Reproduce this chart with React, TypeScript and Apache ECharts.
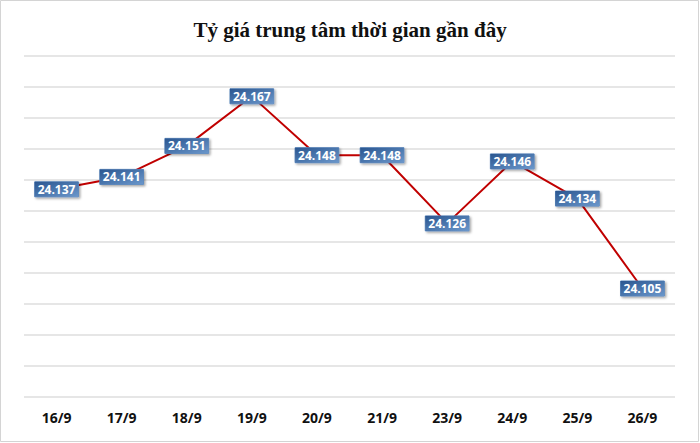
import React, { useEffect, useRef } from "react";
import * as echarts from "echarts";

const categories = ["16/9", "17/9", "18/9", "19/9", "20/9", "21/9", "23/9", "24/9", "25/9", "26/9"];
const rates = [24137, 24141, 24151, 24167, 24148, 24148, 24126, 24146, 24134, 24105];
const titleText = "Tỷ giá trung tâm thời gian gần đây";

const fmt = (v: number) => {
  const s = String(Math.round(v));
  return s.slice(0, s.length - 3) + "." + s.slice(s.length - 3);
};

export default function App() {
  const ref = useRef<HTMLDivElement>(null);
  useEffect(() => {
    if (!ref.current) return;
    const chart = echarts.init(ref.current, null, { renderer: "svg" });
    chart.setOption({
      animation: false,
      backgroundColor: "#ffffff",
      title: {
        text: titleText,
        left: "center",
        top: 14,
        textStyle: {
          fontFamily: "Liberation Serif",
          fontWeight: "bold",
          fontSize: 21,
          color: "#111111",
        },
      },
      graphic: [
        {
          type: "rect",
          shape: { x: 0.5, y: 0.5, width: 698, height: 441 },
          style: { fill: "none", stroke: "#d4d4d4", lineWidth: 1 },
          silent: true,
        },
      ],
      grid: { left: 24, right: 25, top: 56, bottom: 46, containLabel: false },
      xAxis: {
        type: "category",
        data: categories,
        boundaryGap: true,
        axisLine: { show: false },
        axisTick: { show: false },
        axisLabel: {
          margin: 13,
          fontFamily: "Open Sans",
          fontWeight: "bold",
          fontSize: 14,
          color: "#111111",
        },
      },
      yAxis: {
        type: "value",
        min: 24070,
        max: 24180,
        interval: 10,
        axisLabel: { show: false },
        axisLine: { show: false },
        axisTick: { show: false },
        splitLine: { lineStyle: { color: "#dedede", width: 1.5 } },
      },
      series: [
        {
          type: "line",
          data: rates,
          showSymbol: true,
          symbol: "circle",
          symbolSize: 1,
          itemStyle: { color: "rgba(0,0,0,0)" },
          lineStyle: { color: "#c00000", width: 2 },
          z: 2,
          label: {
            show: true,
            position: "inside",
            formatter: (p: any) => fmt(p.value),
            color: "#ffffff",
            fontFamily: "Open Sans",
            fontWeight: "bold",
            fontSize: 12,
            padding: [2, 3, 1, 3],
            backgroundColor: {
              type: "linear",
              x: 0,
              y: 0,
              x2: 1,
              y2: 1,
              colorStops: [
                { offset: 0, color: "#2a5690" },
                { offset: 1, color: "#6b97cb" },
              ],
            },
            borderColor: "#5b86bb",
            borderWidth: 0.5,
            shadowColor: "rgba(0,0,0,0.35)",
            shadowBlur: 2,
            shadowOffsetX: 1.5,
            shadowOffsetY: 1.5,
          },
        },
      ],
    });
    return () => chart.dispose();
  }, []);
  return (
    <div
      ref={ref}
      style={{ position: "absolute", left: 0, top: 0, width: 700, height: 443 }}
    />
  );
}
